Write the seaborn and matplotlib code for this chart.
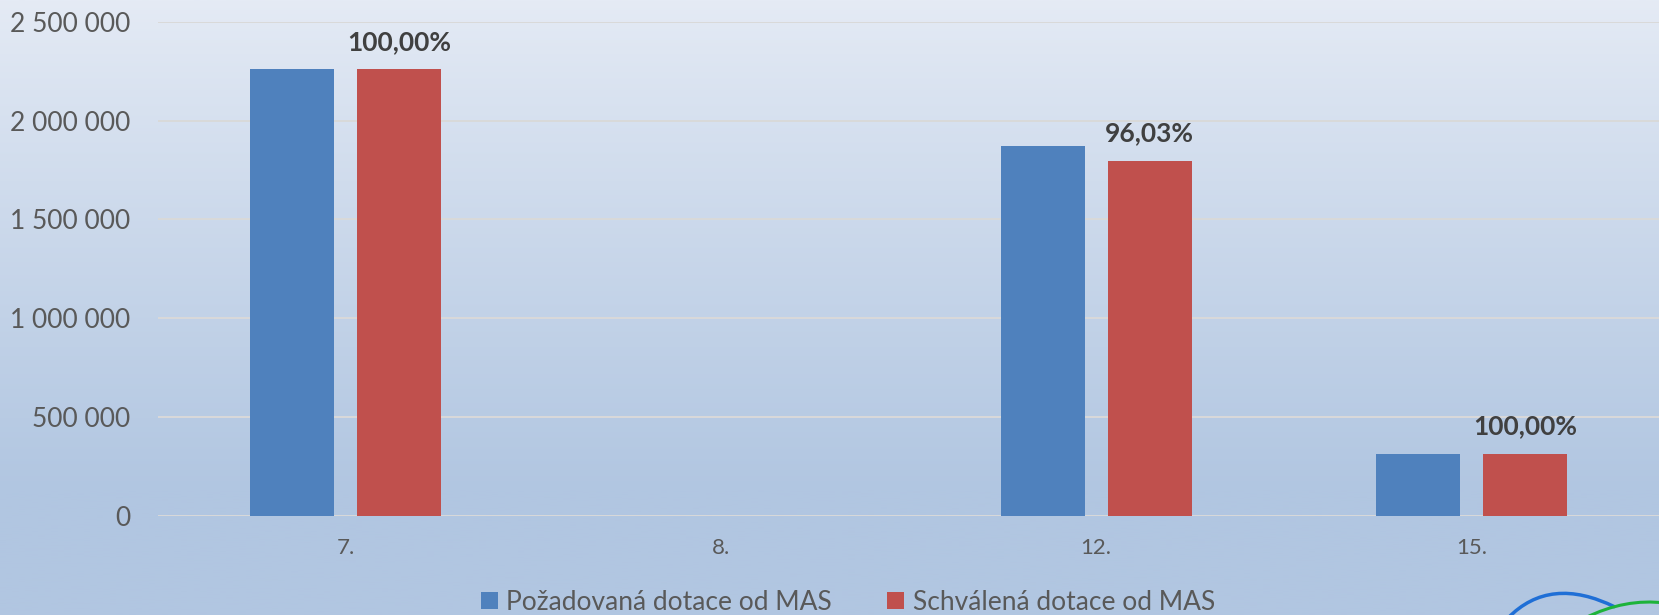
import numpy as np
import pandas as pd
import matplotlib.pyplot as plt
import seaborn as sns
from matplotlib.ticker import FuncFormatter
from matplotlib.path import Path
from matplotlib.patches import PathPatch
from matplotlib.colors import LinearSegmentedColormap

# data
kategorie = ['7.', '8.', '12.', '15.']
pozadovana = [2260400, 0, 1870000, 311500]
schvalena = [2260400, 0, 1795800, 311500]
serie = ['Požadovaná dotace od MAS', 'Schválená dotace od MAS']
barvy = ['#4f81bd', '#c0504d']

df = pd.DataFrame({
    'kategorie': kategorie * 2,
    'serie': [serie[0]] * len(kategorie) + [serie[1]] * len(kategorie),
    'dotace': pozadovana + schvalena,
})

W, H = 1659, 615

sns.set_theme(style='white')
plt.rcParams['font.family'] = ['Lato', 'DejaVu Sans']

fig = plt.figure(figsize=(W / 100, H / 100), dpi=100)

# light-blue vertical gradient background
bg = fig.add_axes([0, 0, 1, 1], zorder=-10)
t = np.clip(np.linspace(0, 1, 400) / 0.8, 0, 1) ** 0.9
cmap = LinearSegmentedColormap.from_list('bg', ['#e5ebf5', '#b1c6e1'])
bg.imshow(t[:, None], aspect='auto', cmap=cmap, extent=[0, 1, 0, 1], vmin=0, vmax=1)
bg.axis('off')

ax = fig.add_axes([158 / W, 1 - 515.5 / H, 1 - 158 / W, (515.5 - 22) / H])
ax.patch.set_alpha(0)

sns.barplot(data=df, x='kategorie', y='dotace', hue='serie', order=kategorie,
            hue_order=serie, palette=barvy, saturation=1, width=0.571, gap=0.215,
            linewidth=0, ax=ax)

ax.set_xlim(-0.5, 3.5)
ax.set_ylim(0, 2500000)
ax.set_yticks(np.arange(0, 2500001, 500000))
ax.yaxis.set_major_formatter(FuncFormatter(lambda v, _: f'{int(v):,}'.replace(',', ' ')))
ax.yaxis.grid(True, color='#d9d9d9', lw=1.4)
ax.set_axisbelow(True)
for s in ax.spines.values():
    s.set_visible(False)
ax.set_xlabel('')
ax.set_ylabel('')
ax.tick_params(axis='y', labelsize=19, colors='#595959', length=0, pad=20)
ax.tick_params(axis='x', labelsize=16, colors='#595959', length=0, pad=16)

# percentage labels above the approved bars
for bar, p, s in zip(ax.containers[1], pozadovana, schvalena):
    if p > 0:
        txt = f'{s / p * 100:.2f}%'.replace('.', ',')
        ax.annotate(txt, (bar.get_x() + bar.get_width() / 2, bar.get_height()),
                    xytext=(0, 14), textcoords='offset points', ha='center',
                    va='baseline', fontsize=19, fontweight='bold', color='#404040',
                    annotation_clip=False)

handles, labels = ax.get_legend_handles_labels()
ax.get_legend().remove()
fig.legend(handles, labels, loc='center', bbox_to_anchor=(848 / W, 1 - 602 / H),
           ncol=2, frameon=False, fontsize=19, labelcolor='#595959',
           handlelength=0.63, handleheight=0.63, handletextpad=0.32,
           columnspacing=2.1, borderaxespad=0, borderpad=0)

# partial logo curves in the bottom-right corner
def krivka(pts, color, lw):
    verts = [(x / W, 1 - y / H) for x, y in pts]
    path = Path(verts, [Path.MOVETO, Path.CURVE3, Path.CURVE3])
    fig.add_artist(PathPatch(path, fc='none', ec=color, lw=lw, transform=fig.transFigure))

krivka([(1508, 618), (1550, 575), (1615, 607)], '#1f6fd6', 2.5)
krivka([(1585, 618), (1625, 598), (1665, 603)], '#1db33a', 2.2)

fig.savefig('out.png', dpi=100)
